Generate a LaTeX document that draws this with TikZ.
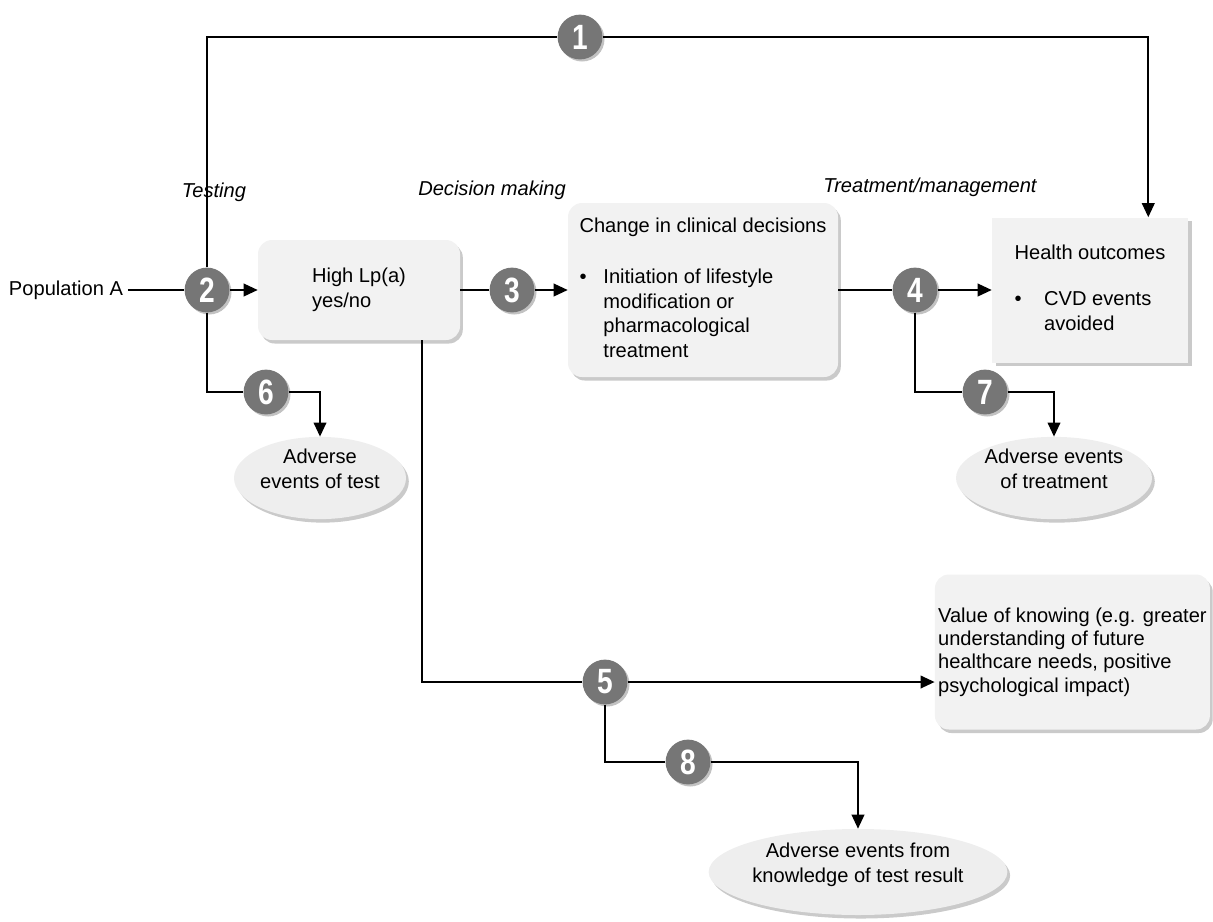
\documentclass[tikz,border=0pt]{standalone}
\usepackage{fontspec}
\setmainfont{Liberation Sans}
\newfontfamily\numfont{Liberation Sans}[FakeStretch=0.8]
\usetikzlibrary{arrows.meta,shapes.geometric,shadows}
\definecolor{numgrey}{HTML}{767676}
\definecolor{boxgrey}{HTML}{F2F2F2}
\definecolor{ellgrey}{HTML}{EEEEEE}
\begin{document}
\begin{tikzpicture}[
  every node/.style={font=\fontsize{14.3}{17.5}\selectfont},
  line/.style={line width=1.3pt},
  arr/.style={line width=1.3pt, -{Triangle[length=10pt,width=9pt]}},
  numcirc/.style={circle, fill=numgrey, text=white, minimum size=1.12cm, inner sep=0pt,
    font=\numfont\fontsize{25}{25}\selectfont\bfseries,
    drop shadow={shadow xshift=1.5pt, shadow yshift=-1.5pt, fill=black!40, opacity=.6}},
  roundbox/.style={rounded corners=0.35cm, fill=boxgrey, align=left,
    drop shadow={shadow xshift=2pt, shadow yshift=-2.5pt, fill=black!35, opacity=.6}},
  squarebox/.style={fill=boxgrey, align=left,
    drop shadow={shadow xshift=2.5pt, shadow yshift=-2.5pt, fill=black!35, opacity=.6}},
  evellipse/.style={ellipse, fill=ellgrey, align=center, inner sep=0pt,
    drop shadow={shadow xshift=2pt, shadow yshift=-2.5pt, fill=black!35, opacity=.6}},
  phase/.style={font=\fontsize{14.3}{17.5}\selectfont\itshape}
]
\useasboundingbox (0,0) rectangle (30.325,-23.025);

% Phase labels
\node[phase] (testing) at (5.35,-4.8) {Testing};
\node[phase] (decision) at (12.3,-4.75) {Decision making};
\node[phase] (treat) at (23.25,-4.68) {Treatment/management};

% Main row
\node (popA) at (1.65,-7.25) {Population A};
\node[roundbox, minimum width=5.05cm, minimum height=2.5cm] (lp) at (8.975,-7.25) {High Lp(a)\\yes/no};
\node[roundbox, minimum width=6.75cm, minimum height=4.35cm] (clin) at (17.575,-7.25)
  {\begin{tabular}{@{}l@{\hspace{12pt}}l@{}}
   \multicolumn{2}{@{}l@{}}{Change in clinical decisions}\\[19pt]
   \textbullet & Initiation of lifestyle\\
   & modification or\\
   & pharmacological\\
   & treatment
   \end{tabular}};
\node[squarebox, minimum width=4.9cm, minimum height=3.625cm] (health) at (27.25,-7.25)
  {\begin{tabular}{@{}l@{\hspace{16pt}}l@{}}
   \multicolumn{2}{@{}l@{}}{Health outcomes}\\[15pt]
   \textbullet & CVD events\\
   & avoided
   \end{tabular}};
\node[roundbox, minimum width=6.875cm, minimum height=3.875cm, inner sep=2pt,
  font=\fontsize{14.3}{16.5}\selectfont] (know) at (26.81,-16.3)
  {Value of knowing (e.g. greater\\understanding of future\\healthcare needs, positive\\psychological impact)};

% Outcome ellipses
\node[evellipse, minimum width=4.3cm, minimum height=1.9cm] (ae1) at (8.0,-11.95) {Adverse\\events of test\\[-4pt]};
\node[evellipse, minimum width=4.5cm, minimum height=1.9cm] (ae2) at (26.35,-11.95) {Adverse events\\of treatment\\[-4pt]};
\node[evellipse, minimum width=7.3cm, minimum height=2.15cm] (ae3) at (21.45,-21.8) {Adverse events from\\knowledge of test result\\[-4pt]};

% Numbered circles
\node[numcirc] (c1) at (14.5,-0.925) {1};
\node[numcirc] (c2) at (5.175,-7.25) {2};
\node[numcirc] (c3) at (12.8,-7.25) {3};
\node[numcirc] (c4) at (22.875,-7.25) {4};
\node[numcirc] (c5) at (15.125,-17.05) {5};
\node[numcirc] (c6) at (6.65,-9.8) {6};
\node[numcirc] (c7) at (24.625,-9.8) {7};
\node[numcirc] (c8) at (17.2,-19.05) {8};

% Connectors
\draw[line] (popA) -- (c2);
\draw[arr] (c2) -- (lp);
\draw[line] (lp) -- (c3);
\draw[arr] (c3) -- (clin);
\draw[line] (clin) -- (c4);
\draw[arr] (c4) -- (health);
\draw[line] (c2) |- (c1);
\draw[arr] (c1) -| ([xshift=-1cm]health.north east);
\draw[line] (c2) |- (c6);
\draw[arr] (c6) -| (ae1);
\draw[line] (c4) |- (c7);
\draw[arr] (c7) -| (ae2);
\draw[line] ([xshift=1.575cm]lp.south) |- (c5);
\draw[arr] (c5) -- (c5 -| know.west);
\draw[line] (c5) |- (c8);
\draw[arr] (c8) -| (ae3);
\end{tikzpicture}
\end{document}
